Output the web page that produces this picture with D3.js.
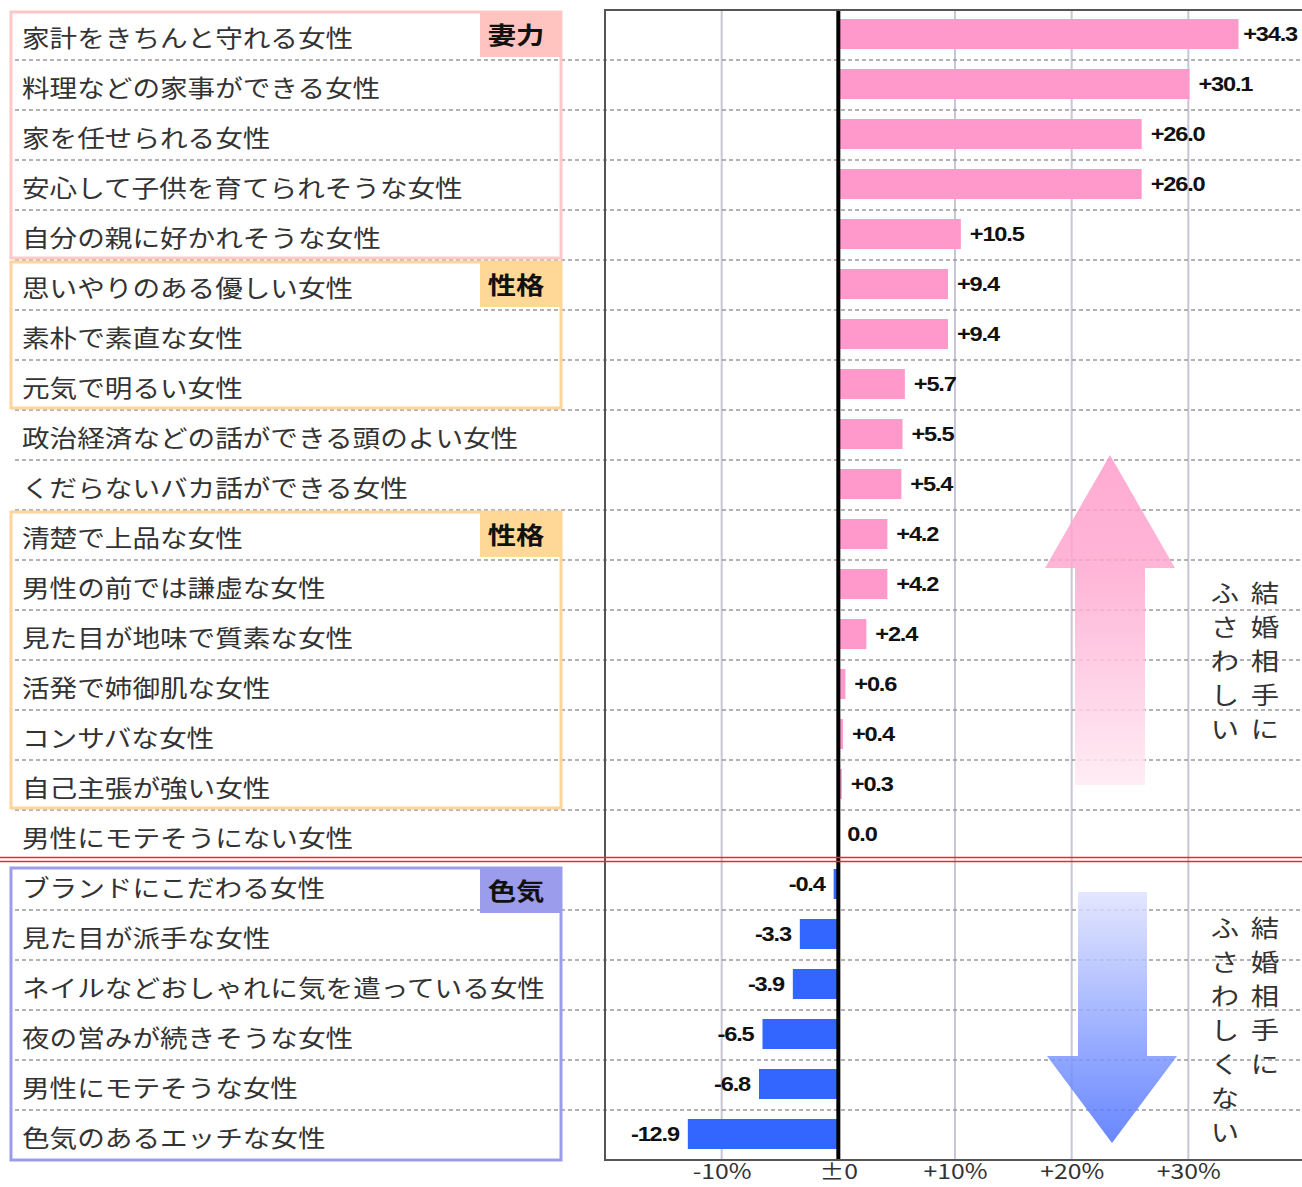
<!DOCTYPE html>
<html>
<head>
<meta charset="utf-8">
<script src="https://cdn.jsdelivr.net/npm/d3@7/dist/d3.min.js"></script>
<style>
  html, body { margin: 0; padding: 0; background: #fff; }
  svg { display: block; }
  text { font-family: "Noto Sans CJK JP", "Noto Sans", sans-serif; }
  .num { font-family: "Liberation Sans", Arial, sans-serif; }
</style>
</head>
<body>
<svg id="chart"></svg>
<script>
// categories (top to bottom) and their values (percentage points)
var labels = [
  "家計をきちんと守れる女性",
  "料理などの家事ができる女性",
  "家を任せられる女性",
  "安心して子供を育てられそうな女性",
  "自分の親に好かれそうな女性",
  "思いやりのある優しい女性",
  "素朴で素直な女性",
  "元気で明るい女性",
  "政治経済などの話ができる頭のよい女性",
  "くだらないバカ話ができる女性",
  "清楚で上品な女性",
  "男性の前では謙虚な女性",
  "見た目が地味で質素な女性",
  "活発で姉御肌な女性",
  "コンサバな女性",
  "自己主張が強い女性",
  "男性にモテそうにない女性",
  "ブランドにこだわる女性",
  "見た目が派手な女性",
  "ネイルなどおしゃれに気を遣っている女性",
  "夜の営みが続きそうな女性",
  "男性にモテそうな女性",
  "色気のあるエッチな女性"
];
var values = [34.3, 30.1, 26.0, 26.0, 10.5, 9.4, 9.4, 5.7, 5.5, 5.4, 4.2, 4.2,
              2.4, 0.6, 0.4, 0.3, 0.0, -0.4, -3.3, -3.9, -6.5, -6.8, -12.9];

// grouped boxes: tag name, first row, last row
var groupNames = ["妻力", "性格", "性格", "色気"];
var groupFirst = [0, 5, 10, 17];
var groupLast  = [4, 7, 15, 22];

// axis
var tickValues = [-10, 0, 10, 20, 30];
var tickLabels = ["-10%", "±0", "+10%", "+20%", "+30%"];

// side notes
var upNote = ["結婚相手に", "ふさわしい"];
var downNote = ["結婚相手に", "ふさわしくない"];

var W = 1302, H = 1187, SX = 1.18;
var svg = d3.select("#chart").attr("width", W).attr("height", H);

var x = d3.scaleLinear().domain([-20, 40]).range([605, 1305]);
var y = d3.scaleBand().domain(d3.range(labels.length)).range([10, 1160]);

var groupStroke = {"妻力": "#ffc8c8", "性格": "#ffd49a", "色気": "#9c9cec"};
var groupFill = {"妻力": "#ffc4c0", "性格": "#ffd898", "色気": "#9c9cec"};

function stretched(sel, px, py, s) {
  return sel.attr("transform", "translate(" + px + "," + py + ") scale(" + (s || SX) + ",1)");
}

// gradients for the arrows
var defs = svg.append("defs");
var gUp = defs.append("linearGradient").attr("id", "gUp")
  .attr("x1", 0).attr("y1", 0).attr("x2", 0).attr("y2", 1);
gUp.append("stop").attr("offset", "0%").attr("stop-color", "#ff9ccb");
gUp.append("stop").attr("offset", "35%").attr("stop-color", "#ffa8d0");
gUp.append("stop").attr("offset", "100%").attr("stop-color", "#ffeaf3");
var gDown = defs.append("linearGradient").attr("id", "gDown")
  .attr("x1", 0).attr("y1", 0).attr("x2", 0).attr("y2", 1);
gDown.append("stop").attr("offset", "0%").attr("stop-color", "#dfe2ff");
gDown.append("stop").attr("offset", "65%").attr("stop-color", "#7e98ff");
gDown.append("stop").attr("offset", "100%").attr("stop-color", "#4f72ff");

// vertical gridlines
svg.selectAll(".vgrid")
  .data(tickValues.filter(function (d) { return d !== 0; }))
  .enter().append("line")
  .attr("x1", function (d) { return x(d); }).attr("x2", function (d) { return x(d); })
  .attr("y1", y.range()[0]).attr("y2", y.range()[1])
  .attr("stroke", "#c6c6d6").attr("stroke-width", 2);

// dashed row separators
svg.selectAll(".hgrid")
  .data(d3.range(1, labels.length).filter(function (i) { return i !== 17; }))
  .enter().append("line")
  .attr("x1", 15).attr("x2", W)
  .attr("y1", function (i) { return y(i); }).attr("y2", function (i) { return y(i); })
  .attr("stroke", "#999").attr("stroke-width", 1.5)
  .attr("stroke-dasharray", "4,3");

// group boxes
groupNames.forEach(function (name, k) {
  var top = y(groupFirst[k]) + 2, bottom = y(groupLast[k]) + y.bandwidth() - 2;
  if (name === "色気") { top += 6; bottom += 2; }
  svg.append("rect")
    .attr("x", 11).attr("y", top).attr("width", 550).attr("height", bottom - top)
    .attr("fill", "none").attr("stroke", groupStroke[name]).attr("stroke-width", 3);
  svg.append("rect")
    .attr("x", 480).attr("y", top).attr("width", 81).attr("height", 45)
    .attr("fill", groupFill[name]);
  stretched(svg.append("text"), 516, top + 22)
    .attr("text-anchor", "middle").attr("dominant-baseline", "central")
    .attr("font-size", 24).attr("font-weight", "bold").attr("fill", "#111")
    .text(name);
});

// category labels
labels.forEach(function (lab, i) {
  stretched(svg.append("text"), 22, y(i) + y.bandwidth() / 2 + 1, 1.15)
    .attr("dominant-baseline", "central")
    .attr("font-size", 24).attr("fill", "#333")
    .text(lab);
});

// arrows (semi transparent so the grid shows through)
var upArrow = [[1110, 455], [1175, 568], [1145, 568], [1145, 785], [1075, 785], [1075, 568], [1045, 568]];
var downArrow = [[1078, 892], [1147, 892], [1147, 1056], [1177, 1056], [1112, 1143], [1047, 1056], [1078, 1056]];
svg.append("polygon").attr("points", upArrow.join(" "))
  .attr("fill", "url(#gUp)").attr("opacity", 0.85);
svg.append("polygon").attr("points", downArrow.join(" "))
  .attr("fill", "url(#gDown)").attr("opacity", 0.85);

// vertical notes
function vnote(lines, topY) {
  lines.forEach(function (str, col) {
    var cx = 1265 - col * 40;
    str.split("").forEach(function (ch, j) {
      stretched(svg.append("text"), cx, topY + j * 34)
        .attr("text-anchor", "middle").attr("dominant-baseline", "central")
        .attr("font-size", 24).attr("fill", "#333")
        .text(ch);
    });
  });
}
vnote(upNote, 592);
vnote(downNote, 927);

// bars
svg.selectAll(".bar")
  .data(values)
  .enter().append("rect")
  .attr("class", "bar")
  .attr("x", function (d) { return x(Math.min(0, d)); })
  .attr("y", function (d, i) { return y(i) + 9; })
  .attr("width", function (d) { return Math.abs(x(d) - x(0)); })
  .attr("height", 30)
  .attr("fill", function (d) { return d >= 0 ? "#ff99cc" : "#3366ff"; });

// value labels
function fmt(d) {
  if (d === 0) return "0.0";
  return (d > 0 ? "+" : "-") + Math.abs(d).toFixed(1);
}
values.forEach(function (d, i) {
  var t = svg.append("text").attr("class", "num")
    .attr("font-size", 20).attr("font-weight", "bold").attr("fill", "#111")
    .attr("dominant-baseline", "central")
    .attr("letter-spacing", -1)
    .text(fmt(d));
  var cy = y(i) + y.bandwidth() / 2 - 1;
  if (d < 0) {
    stretched(t, x(d) - 9, cy).attr("text-anchor", "end");
  } else if (x(d) + 70 > W) {
    stretched(t, W - 5, cy).attr("text-anchor", "end");
  } else {
    stretched(t, x(d) + 9, cy);
  }
});

// zero line
svg.append("line")
  .attr("x1", x(0)).attr("x2", x(0))
  .attr("y1", y.range()[0]).attr("y2", y.range()[1])
  .attr("stroke", "#000").attr("stroke-width", 4);

// plot frame
svg.append("path")
  .attr("d", "M" + W + "," + y.range()[0] + "H" + x(-20) + "V" + y.range()[1] + "H" + W)
  .attr("fill", "none").attr("stroke", "#555").attr("stroke-width", 2);

// red separator between positive and negative
[857.5, 861.5].forEach(function (ry) {
  svg.append("line").attr("x1", 0).attr("x2", W).attr("y1", ry).attr("y2", ry)
    .attr("stroke", "#ff2020").attr("stroke-width", 1.6);
});

// x axis
var axis = svg.append("g")
  .attr("transform", "translate(0," + y.range()[1] + ")")
  .call(d3.axisBottom(x).tickValues(tickValues)
    .tickFormat(function (d, i) { return tickLabels[i]; })
    .tickSize(0).tickPadding(4));
axis.select(".domain").remove();
axis.selectAll("text")
  .attr("font-family", "'Liberation Sans', Arial, sans-serif")
  .attr("font-size", 21).attr("fill", "#333")
  .attr("transform", "scale(" + SX + ",1)");
</script>
</body>
</html>
